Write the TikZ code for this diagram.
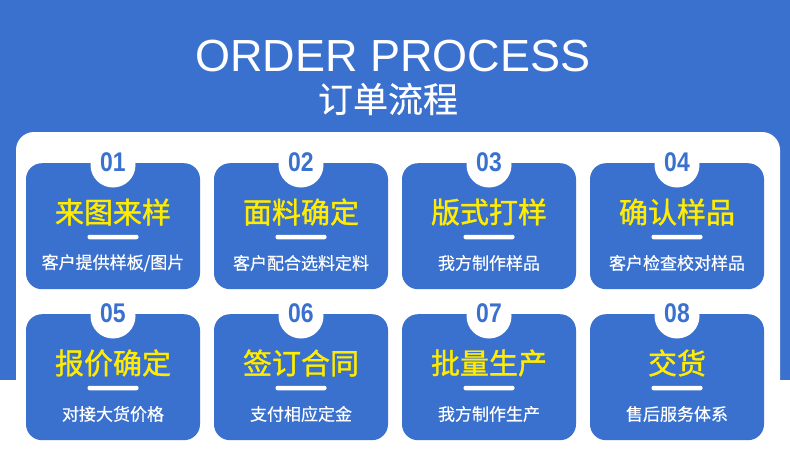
\documentclass[tikz,border=0pt]{standalone}
\usepackage{fontspec}
\setmainfont{Liberation Sans}
\newfontfamily\cjk{Noto Sans CJK SC}
\newfontfamily\cjkbold[FakeBold=1.2]{Noto Sans CJK SC}
\newfontfamily\cjkmid[FakeBold=0.5]{Noto Sans CJK SC}
\definecolor{procblue}{RGB}{59,113,206}
\definecolor{procyellow}{RGB}{255,236,0}

\begin{document}
\begin{tikzpicture}[x=1pt, y=-1pt,
  card/.style={fill=procblue, rounded corners=16pt, minimum width=174pt, minimum height=126pt, anchor=north, inner sep=0pt},
  tab/.style={circle, fill=white, minimum size=45pt, inner sep=0pt},
  num/.style={text=procblue, font=\fontsize{27}{27}\selectfont\bfseries, xscale=0.85, inner sep=0pt},
  ttl/.style={text=procyellow, font=\fontsize{29}{29}\cjkbold, inner sep=0pt},
  bar/.style={fill=white, rounded corners=2pt, minimum width=51pt, minimum height=4.5pt, inner sep=0pt},
  sub/.style={text=white, font=\fontsize{17}{17}\cjkmid, inner sep=0pt}]
\useasboundingbox (0,0) rectangle (790,464);
\fill[white] (0,0) rectangle (790,464);
\fill[procblue] (0,0) rectangle (790,380);
\fill[white, rounded corners=18pt] (16,132) rectangle (780,490);
% heading
\node[text=white, font=\fontsize{45}{45}\selectfont, inner sep=0pt] (head) at (393,56) {ORDER PROCESS};
\node[text=white, font=\fontsize{35}{35}\cjkmid, inner sep=0pt] (headcn) at (388,99) {订单流程};
% first row
\node[card] (c1) at (113,163) {}; \node[tab] (t1) at ([yshift=-2pt]c1.north) {}; \node[num] (n1) at ([yshift=1pt]c1.north) {01};
\node[ttl] (h1) at ([yshift=-49pt]c1.north) {来图来样}; \node[bar] (b1) at ([yshift=-74pt]c1.north) {}; \node[sub] (s1) at ([yshift=-100pt]c1.north) {客户提供样板/图片};
\node[card] (c2) at (301,163) {}; \node[tab] (t2) at ([yshift=-2pt]c2.north) {}; \node[num] (n2) at ([yshift=1pt]c2.north) {02};
\node[ttl] (h2) at ([yshift=-49pt]c2.north) {面料确定}; \node[bar] (b2) at ([yshift=-74pt]c2.north) {}; \node[sub] (s2) at ([yshift=-100pt]c2.north) {客户配合选料定料};
\node[card] (c3) at (489,163) {}; \node[tab] (t3) at ([yshift=-2pt]c3.north) {}; \node[num] (n3) at ([yshift=1pt]c3.north) {03};
\node[ttl] (h3) at ([yshift=-49pt]c3.north) {版式打样}; \node[bar] (b3) at ([yshift=-74pt]c3.north) {}; \node[sub] (s3) at ([yshift=-100pt]c3.north) {我方制作样品};
\node[card] (c4) at (677,163) {}; \node[tab] (t4) at ([yshift=-2pt]c4.north) {}; \node[num] (n4) at ([yshift=1pt]c4.north) {04};
\node[ttl] (h4) at ([yshift=-49pt]c4.north) {确认样品}; \node[bar] (b4) at ([yshift=-74pt]c4.north) {}; \node[sub] (s4) at ([yshift=-100pt]c4.north) {客户检查校对样品};
% second row
\node[card] (c5) at (113,314) {}; \node[tab] (t5) at ([yshift=-2pt]c5.north) {}; \node[num] (n5) at ([yshift=1pt]c5.north) {05};
\node[ttl] (h5) at ([yshift=-49pt]c5.north) {报价确定}; \node[bar] (b5) at ([yshift=-74pt]c5.north) {}; \node[sub] (s5) at ([yshift=-100pt]c5.north) {对接大货价格};
\node[card] (c6) at (301,314) {}; \node[tab] (t6) at ([yshift=-2pt]c6.north) {}; \node[num] (n6) at ([yshift=1pt]c6.north) {06};
\node[ttl] (h6) at ([yshift=-49pt]c6.north) {签订合同}; \node[bar] (b6) at ([yshift=-74pt]c6.north) {}; \node[sub] (s6) at ([yshift=-100pt]c6.north) {支付相应定金};
\node[card] (c7) at (489,314) {}; \node[tab] (t7) at ([yshift=-2pt]c7.north) {}; \node[num] (n7) at ([yshift=1pt]c7.north) {07};
\node[ttl] (h7) at ([yshift=-49pt]c7.north) {批量生产}; \node[bar] (b7) at ([yshift=-74pt]c7.north) {}; \node[sub] (s7) at ([yshift=-100pt]c7.north) {我方制作生产};
\node[card] (c8) at (677,314) {}; \node[tab] (t8) at ([yshift=-2pt]c8.north) {}; \node[num] (n8) at ([yshift=1pt]c8.north) {08};
\node[ttl] (h8) at ([yshift=-49pt]c8.north) {交货}; \node[bar] (b8) at ([yshift=-74pt]c8.north) {}; \node[sub] (s8) at ([yshift=-100pt]c8.north) {售后服务体系};
\end{tikzpicture}
\end{document}
